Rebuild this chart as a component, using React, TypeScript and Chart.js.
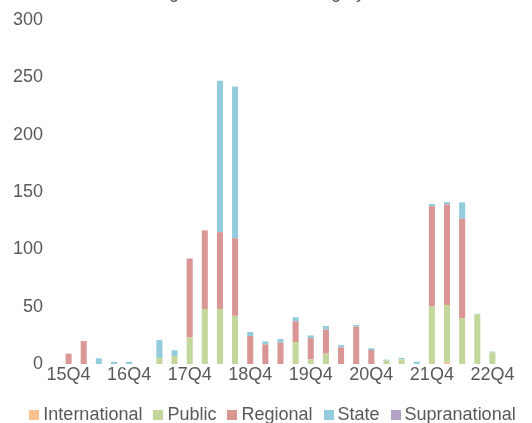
import React, { useEffect, useRef } from "react";
import { Chart, registerables } from "chart.js";

Chart.register(...registerables);

const titleText = "Sub-sovereign bonds outstanding by asset class";

const categories = [
  "15Q4", "16Q1", "16Q2", "16Q3", "16Q4",
  "17Q1", "17Q2", "17Q3", "17Q4",
  "18Q1", "18Q2", "18Q3", "18Q4",
  "19Q1", "19Q2", "19Q3", "19Q4",
  "20Q1", "20Q2", "20Q3", "20Q4",
  "21Q1", "21Q2", "21Q3", "21Q4",
  "22Q1", "22Q2", "22Q3", "22Q4",
];

const international = [
  0, 0, 0, 0, 0,
  0, 0, 0, 0,
  0, 0, 0, 0,
  0, 0, 0, 0,
  0, 0, 0, 0,
  0, 0, 0, 0,
  1.5, 0, 0, 0,
];

const publicSeries = [
  0, 0, 0, 0, 0,
  0, 5, 7, 23,
  48, 48, 42, 0,
  0, 0, 19, 4,
  9, 0, 0, 0,
  3, 4, 0, 50,
  50, 40, 43.3, 10,
];

const regional = [
  9, 20, 0, 0, 0,
  0, 0, 0, 69,
  68.5, 67, 67.7, 24.4,
  17, 18.6, 18.3, 18.6,
  21, 14.5, 32.5, 12.2,
  0, 0, 0, 87.6,
  87.7, 86.8, 0, 0,
];

const state = [
  0, 0, 5, 2, 2,
  0, 16, 5, 0,
  0, 132, 132.4, 3.5,
  2.7, 3.2, 3.5, 2.3,
  3.2, 2, 1.5, 1.5,
  0.8, 1.3, 2, 2,
  2, 14.2, 0.5, 0.8,
];

const supranational = [
  0, 0, 0, 0, 0,
  0, 0, 0, 0,
  0, 0, 0, 0,
  0, 0, 0, 0,
  0, 0, 0, 0,
  0, 0, 0, 0,
  0, 0, 0, 0,
];

const yTicks = { min: 0, max: 300, step: 50 };

const seriesNames = ["International", "Public", "Regional", "State", "Supranational"];
const seriesColors = ["#FAC090", "#C3D69B", "#D99694", "#93CDDD", "#B3A2C7"];

function makeSwatch(color: string): HTMLCanvasElement {
  const c = document.createElement("canvas");
  c.width = 10;
  c.height = 10;
  const ctx = c.getContext("2d");
  if (ctx) {
    ctx.fillStyle = color;
    ctx.fillRect(0, 0, 10, 10);
  }
  return c;
}

const legendShift = {
  id: "legendShift",
  afterLayout(chart: any) {
    if (chart.legend) {
      chart.legend.left += 9;
      chart.legend.right += 9;
    }
  },
};

export default function App() {
  const canvasRef = useRef<HTMLCanvasElement | null>(null);

  useEffect(() => {
    const canvas = canvasRef.current;
    if (!canvas) return;
    const values = [international, publicSeries, regional, state, supranational];
    const swatches = seriesColors.map(makeSwatch);
    const chart = new Chart(canvas, {
      type: "bar",
      data: {
        labels: categories,
        datasets: values.map((d, i) => ({
          label: seriesNames[i],
          data: d,
          backgroundColor: seriesColors[i],
          borderWidth: 0,
          barPercentage: 0.8,
          categoryPercentage: 0.5,
        })),
      },
      plugins: [legendShift],
      options: {
        responsive: false,
        animation: false,
        devicePixelRatio: 1,
        layout: { padding: 0 },
        plugins: {
          title: {
            display: true,
            text: titleText,
            color: "#595959",
            font: { family: "Liberation Sans", size: 18, weight: "normal" },
            padding: { top: 0, bottom: 16.4 },
          },
          legend: {
            position: "bottom",
            labels: {
              usePointStyle: true,
              boxWidth: 0.01,
              boxHeight: 10,
              padding: 16,
              color: "#595959",
              font: { family: "Liberation Sans", size: 18 },
              generateLabels: (ch: any) => {
                const items = Chart.defaults.plugins.legend.labels.generateLabels(ch);
                return items.map((it: any, i: number) => ({
                  ...it,
                  pointStyle: swatches[i],
                }));
              },
            },
          },
          tooltip: { enabled: false },
        },
        scales: {
          x: {
            stacked: true,
            grid: { display: false, drawTicks: false },
            border: { display: false },
            title: {
              display: true,
              text: "",
              padding: 0,
              font: { size: 4, lineHeight: 1.1 },
            },
            ticks: {
              autoSkip: false,
              maxRotation: 0,
              minRotation: 0,
              padding: 0,
              color: "#595959",
              font: { family: "Liberation Sans", size: 18 },
              callback: (_v: any, i: number) => (i % 4 === 0 ? categories[i] : ""),
            },
          },
          y: {
            stacked: true,
            position: "left",
            min: yTicks.min,
            max: yTicks.max,
            grid: { display: false, drawTicks: false },
            border: { display: false },
            afterFit: (s: any) => {
              s.width = 61;
            },
            ticks: {
              stepSize: yTicks.step,
              padding: 18,
              color: "#595959",
              font: { family: "Liberation Sans", size: 18 },
            },
          },
          yRight: {
            position: "right",
            display: true,
            grid: { display: false, drawTicks: false },
            border: { display: false },
            ticks: { display: false },
            afterFit: (s: any) => {
              s.width = 32;
            },
          },
        },
      },
    });
    return () => chart.destroy();
  }, []);

  return (
    <div style={{ position: "absolute", left: 0, top: -18, width: 532, height: 452 }}>
      <canvas ref={canvasRef} width={532} height={452} style={{ display: "block" }} />
    </div>
  );
}
